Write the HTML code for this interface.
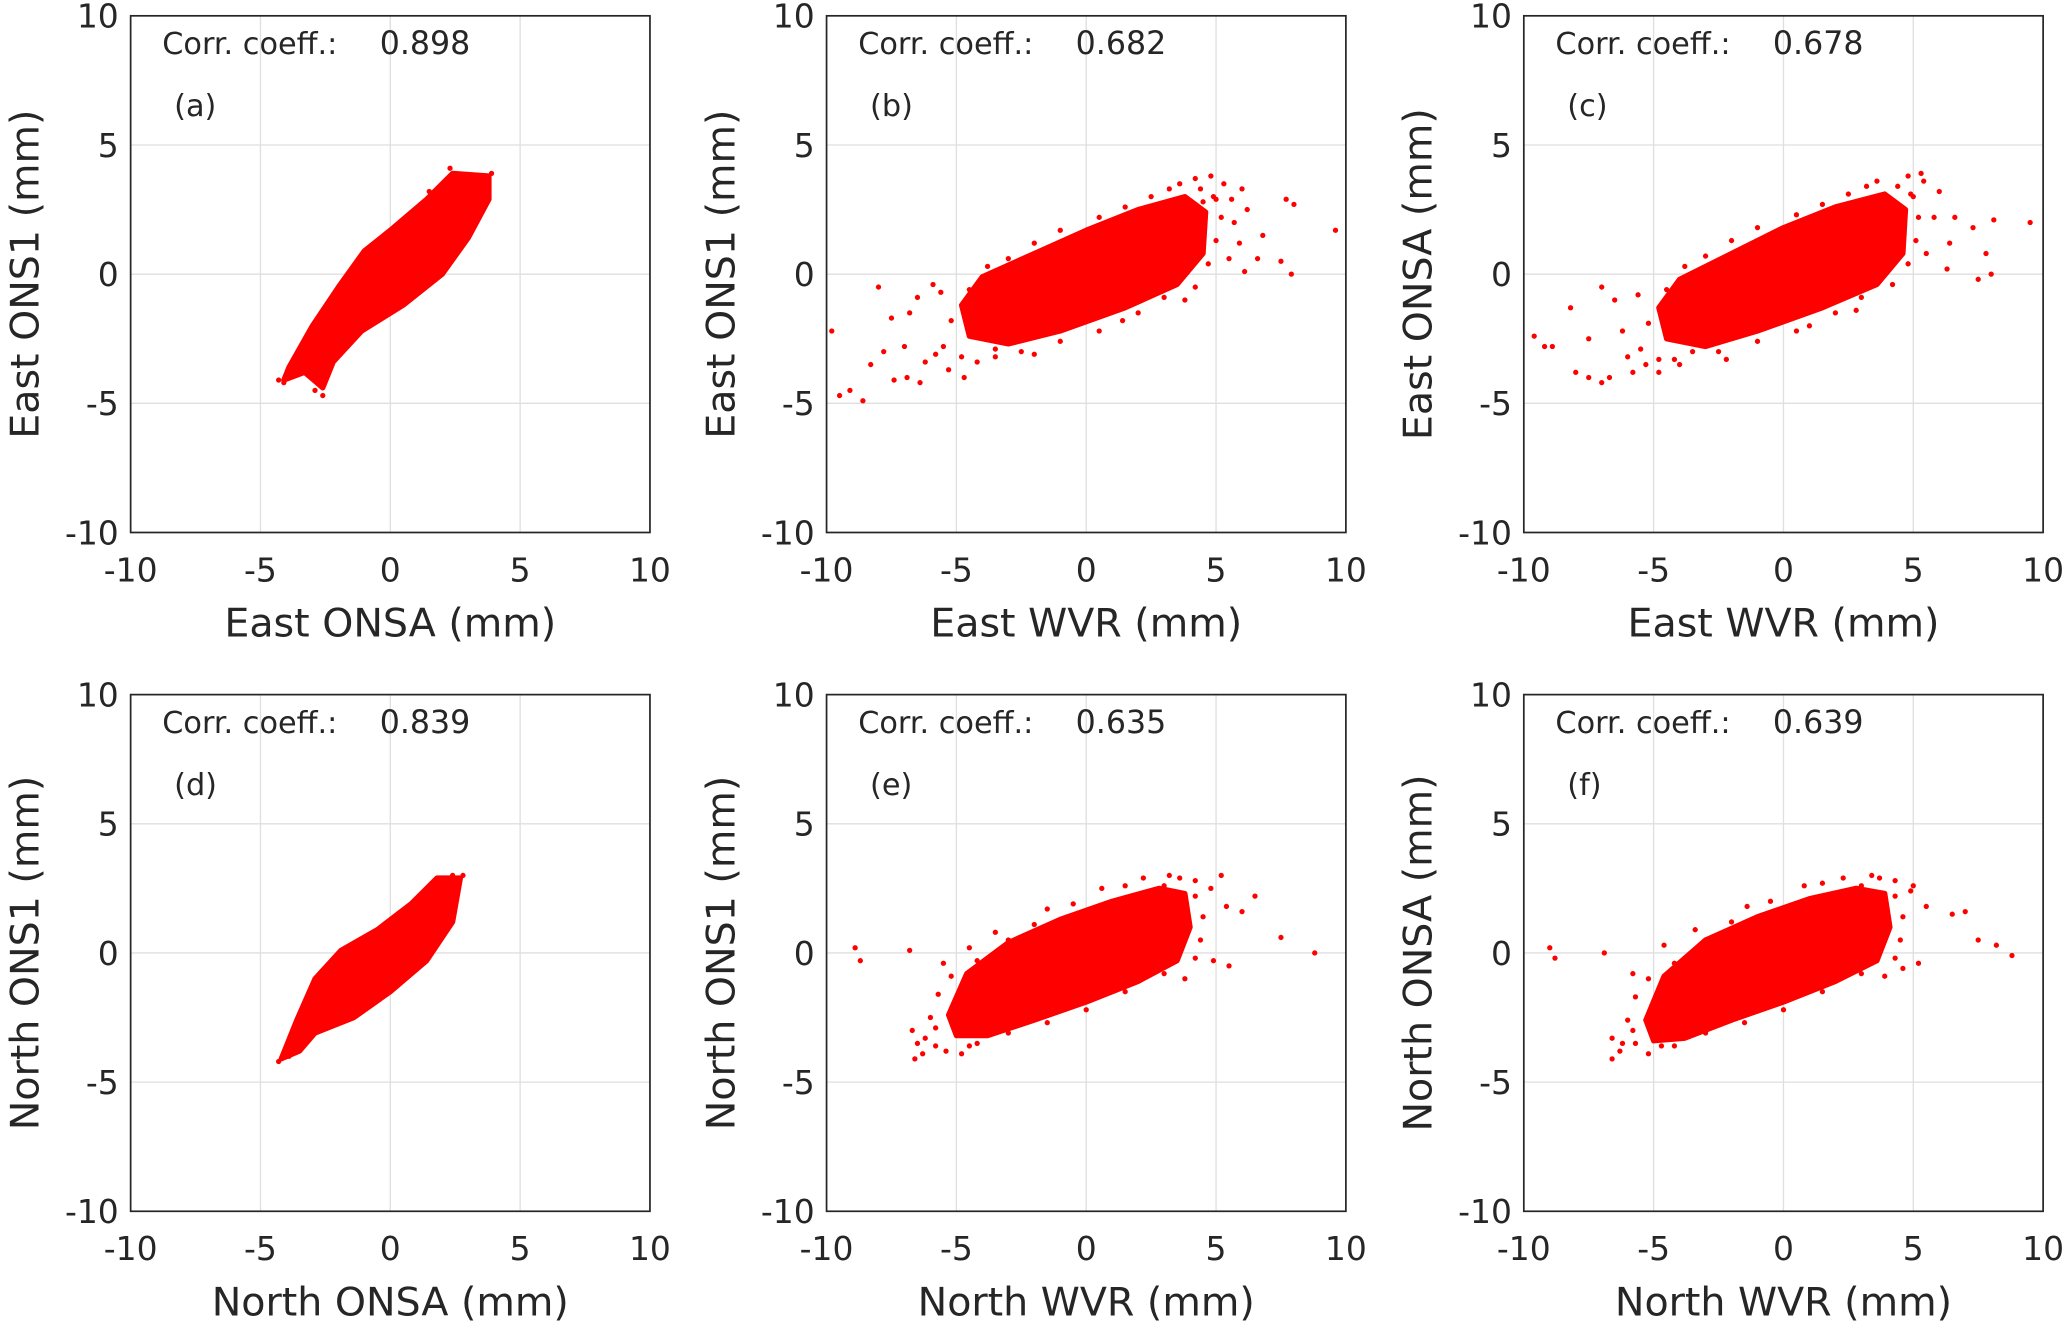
<!DOCTYPE html>
<html><head><meta charset="utf-8"><style>
html,body{margin:0;padding:0;background:#fff;}
svg{display:block;}
text{font-family:"DejaVu Sans","Liberation Sans",sans-serif;fill:#262626;}
</style></head><body>
<svg id="fig" width="2067" height="1322" viewBox="0 0 1568 1003" xmlns="http://www.w3.org/2000/svg"></svg>
<script>
// ---- data (values in mm) ----
const panelIds = ['a','b','c','d','e','f'];
const xLabels = ['East ONSA (mm)','East WVR (mm)','East WVR (mm)','North ONSA (mm)','North WVR (mm)','North WVR (mm)'];
const yLabels = ['East ONS1 (mm)','East ONS1 (mm)','East ONSA (mm)','North ONS1 (mm)','North ONS1 (mm)','North ONSA (mm)'];
const corrValues = ['0.898','0.682','0.678','0.839','0.635','0.639'];
const tickValues = [-10,-5,0,5,10];
const tickLabels = ['-10','-5','0','5','10'];
// dense cores (hull vertices, x,y)
const hullA = [[-4.1,-4.1],[-3.3,-3.8],[-2.6,-4.4],[-2.2,-3.4],[-1.1,-2.2],[0.5,-1.2],[2,0],[3,1.4],[3.8,2.9],[3.8,3.8],[2.4,3.9],[1.4,2.9],[0,1.7],[-1,0.9],[-2,-0.5],[-3,-2],[-3.9,-3.6]];
const hullB = [[-4.8,-1.2],[-4.5,-2.4],[-3,-2.7],[-1,-2.2],[1.5,-1.3],[3.5,-0.4],[4.5,0.8],[4.6,2.4],[3.8,3.0],[2,2.5],[0,1.7],[-2,0.8],[-4,-0.1]];
const hullC = [[-4.8,-1.3],[-4.5,-2.5],[-3,-2.8],[-1,-2.2],[1.5,-1.3],[3.6,-0.4],[4.6,0.8],[4.7,2.5],[3.9,3.1],[2,2.6],[0,1.8],[-2,0.8],[-4,-0.2]];
const hullD = [[-4.2,-4.1],[-3.5,-3.8],[-2.9,-3.1],[-1.4,-2.5],[0,-1.5],[1.4,-0.3],[2.4,1.2],[2.7,2.9],[1.8,2.9],[0.8,1.9],[-0.5,0.9],[-1.9,0.1],[-2.9,-1.0],[-3.6,-2.6]];
const hullE = [[-5.3,-2.4],[-5,-3.2],[-3.8,-3.2],[-2,-2.6],[0,-1.9],[2,-1.1],[3.5,-0.3],[4.0,1.0],[3.8,2.3],[2.8,2.5],[1,2.0],[-1,1.3],[-3,0.4],[-4.6,-0.8]];
const hullF = [[-5.3,-2.6],[-5,-3.4],[-3.8,-3.3],[-2,-2.6],[0,-1.9],[2,-1.1],[3.6,-0.3],[4.1,1.0],[3.9,2.3],[2.8,2.5],[1,2.1],[-1,1.4],[-3,0.5],[-4.6,-0.9]];
// sparse outliers
const ptsA = [[-4.1,-4.2],[-2.6,-4.7],[3.9,3.9],[2.3,4.1],[3.5,3.2],[-3.8,-3.9],[-2.9,-4.5],[-4.3,-4.1],[2.8,3.8],[1.5,3.2]];
const ptsB = [[-9.5,-4.7],[-9.1,-4.5],[-8.6,-4.9],[-8.3,-3.5],[-7.8,-3.0],[-7.4,-4.1],[-6.9,-4.0],[-7.0,-2.8],[-6.4,-4.2],[-6.8,-1.5],[-8.0,-0.5],[-9.8,-2.2],[-7.5,-1.7],[-6.2,-3.4],[-5.8,-3.1],[-5.3,-3.7],[-4.7,-4.0],[-6.5,-0.9],[-5.9,-0.4],[-3.5,-3.2],[-2,-3.1],[1.4,-1.8],[3.8,-1.0],[5.5,0.6],[5.7,2.0],[6.0,3.3],[5.6,2.9],[4.8,3.8],[4.2,3.7],[6.8,1.5],[7.7,2.9],[8.0,2.7],[9.6,1.7],[7.5,0.5],[7.9,0.0],[6.6,0.6],[6.1,0.1],[5.9,1.2],[6.2,2.5],
 [-5.5,-2.8],[-5.2,-1.8],[-5.6,-0.7],[-4.8,-3.2],[-4.2,-3.4],[-3.5,-2.9],[-4.5,-0.6],[-3.8,0.3],[-3,0.6],[-2,1.2],[-1,1.7],[0.5,2.2],[1.5,2.6],[2.5,3.0],[3.2,3.3],[3.6,3.5],[4.4,3.3],[5.0,2.9],[5.2,2.2],[5.0,1.3],[4.7,0.4],[4.2,-0.5],[3,-0.9],[2,-1.5],[0.5,-2.2],[-1,-2.6],[-2.5,-3.0],[5.3,3.5],[4.9,3.0],[4.5,2.8]];
const ptsC = [[-9.6,-2.4],[-9.2,-2.8],[-8.9,-2.8],[-8.0,-3.8],[-7.5,-4.0],[-7.0,-4.2],[-6.7,-4.0],[-6.0,-3.2],[-7.5,-2.5],[-8.2,-1.3],[-7.0,-0.5],[-6.5,-1.0],[-5.8,-3.8],[-5.3,-3.5],[-4.8,-3.8],[-6.2,-2.2],[-4.0,-3.5],[-2.2,-3.3],[1,-2.0],[2.8,-1.4],[5.5,0.8],[5.8,2.2],[6.0,3.2],[5.3,3.9],[4.8,3.8],[6.6,2.2],[7.3,1.8],[7.8,0.8],[8.1,2.1],[9.5,2.0],[8.0,0.0],[7.5,-0.2],[6.4,1.2],[6.3,0.2],
 [-5.5,-2.9],[-5.2,-1.9],[-5.6,-0.8],[-4.8,-3.3],[-4.2,-3.3],[-3.5,-3.0],[-4.5,-0.6],[-3.8,0.3],[-3,0.7],[-2,1.3],[-1,1.8],[0.5,2.3],[1.5,2.7],[2.5,3.1],[3.2,3.4],[3.6,3.6],[4.4,3.4],[5.0,3.0],[5.2,2.2],[5.1,1.3],[4.8,0.4],[4.2,-0.4],[3,-0.9],[2,-1.5],[0.5,-2.2],[-1,-2.6],[-2.5,-3.0],[5.4,3.6],[4.9,3.1]];
const ptsD = [[-4.3,-4.2],[2.8,3.0],[2.4,3.0],[-3.9,-4.0],[-3.2,-3.4],[-3.6,-3.7],[2.0,2.9],[2.6,2.6]];
const ptsE = [[-8.9,0.2],[-8.7,-0.3],[-6.8,0.1],[-6.6,-4.1],[-6.5,-3.5],[-6.3,-3.9],[-6.7,-3.0],[-5.8,-3.6],[-5.4,-3.8],[-4.8,-3.9],[-4.5,-3.6],[-5.5,-0.4],[-4.5,0.2],[-3.5,0.8],[-1.5,1.7],[0.6,2.5],[2.2,2.9],[3.2,3.0],[4.2,2.8],[5.2,3.0],[5.4,1.8],[5.5,-0.5],[4.9,-0.3],[6.0,1.6],[6.5,2.2],[7.5,0.6],[8.8,0.0],[3.8,-1.0],
 [-6.0,-2.5],[-5.7,-1.6],[-5.2,-0.9],[-4.2,-0.3],[-3,0.5],[-2,1.1],[-0.5,1.9],[1.5,2.6],[3.0,2.6],[4.2,2.2],[4.5,1.4],[4.4,0.5],[4.2,-0.2],[3,-0.8],[1.5,-1.5],[0,-2.2],[-1.5,-2.7],[-3,-3.1],[-4.2,-3.5],[-5.8,-2.9],[-6.2,-3.3],[4.8,2.5],[3.6,2.9]];
const ptsF = [[-9.0,0.2],[-8.8,-0.2],[-6.9,0.0],[-6.6,-4.1],[-6.6,-3.3],[-6.3,-3.8],[-5.7,-3.5],[-5.2,-3.9],[-4.7,-3.6],[-5.8,-0.8],[-4.6,0.3],[-3.4,0.9],[-1.4,1.8],[0.8,2.6],[2.3,2.9],[3.4,3.0],[4.3,2.8],[5.0,2.6],[5.5,1.8],[5.2,-0.4],[4.6,-0.6],[6.5,1.5],[7.0,1.6],[7.5,0.5],[8.2,0.3],[8.8,-0.1],[3.9,-0.9],
 [-6.0,-2.6],[-5.7,-1.7],[-5.2,-1.0],[-4.2,-0.4],[-3,0.5],[-2,1.2],[-0.5,2.0],[1.5,2.7],[3.0,2.6],[4.3,2.2],[4.6,1.4],[4.5,0.5],[4.3,-0.2],[3,-0.8],[1.5,-1.5],[0,-2.2],[-1.5,-2.7],[-3,-3.1],[-4.2,-3.6],[-5.8,-3.0],[-6.2,-3.5],[4.9,2.4],[3.7,2.9]];
const hulls = [hullA,hullB,hullC,hullD,hullE,hullF];
const outliers = [ptsA,ptsB,ptsC,ptsD,ptsE,ptsF];

const NS='http://www.w3.org/2000/svg';
const svg=document.getElementById('fig');
function mk(tag,attrs,parent){const e=document.createElementNS(NS,tag);for(const k in attrs)e.setAttribute(k,attrs[k]);(parent||svg).appendChild(e);return e;}
const boxX=[99,627,1156], boxY=[12,527], W=394, H=392;
panelIds.forEach((id,i)=>{
  const x0=boxX[i%3], y0=boxY[Math.floor(i/3)];
  const sx=v=>x0+(v+10)/20*W, sy=v=>y0+(10-v)/20*H;
  const g=mk('g',{});
  
  
  mk('rect',{x:x0,y:y0,width:W,height:H,fill:'#fff'},g);
  tickValues.forEach((t,k)=>{
    const gx=mk('line',{x1:sx(t),x2:sx(t),y1:y0,y2:y0+H,stroke:'#dfdfdf','stroke-width':1},g);
    
    
    const gy=mk('line',{x1:x0,x2:x0+W,y1:sy(t),y2:sy(t),stroke:'#dfdfdf','stroke-width':1},g);
    
    
    const tx=mk('text',{x:sx(t),y:y0+H+37,'font-size':25,'text-anchor':'middle'},g);tx.textContent=tickLabels[k];
    
    
    const ty=mk('text',{x:x0-9,y:sy(t)+9,'font-size':25,'text-anchor':'end'},g);ty.textContent=tickLabels[k];
    
    
  });
  const hp=mk('polygon',{points:hulls[i].map(p=>sx(p[0])+','+sy(p[1])).join(' '),fill:'#ff0000',stroke:'#ff0000','stroke-width':4,'stroke-linejoin':'round'},g);
  
  
  outliers[i].forEach(p=>{
    const c=mk('circle',{cx:sx(p[0]),cy:sy(p[1]),r:2,fill:'#ff0000'},g);
    
    
  });
  const fr=mk('rect',{x:x0,y:y0,width:W,height:H,fill:'none',stroke:'#262626','stroke-width':1.3},g);
  
  
  const ct=mk('text',{x:x0+24,y:y0+29,'font-size':23},g);ct.textContent='Corr. coeff.:';
  
  
  const cv=mk('text',{x:x0+189,y:y0+29,'font-size':24},g);cv.textContent=corrValues[i];
  
  
  const pl=mk('text',{x:x0+33,y:y0+76,'font-size':23},g);pl.textContent='('+id+')';
  
  
  const xl=mk('text',{x:x0+W/2,y:y0+H+79,'font-size':30,'text-anchor':'middle'},g);xl.textContent=xLabels[i];
  
  
  const yl=mk('text',{x:0,y:0,'font-size':30,'text-anchor':'middle',transform:'translate('+(x0-70)+','+(y0+H/2)+') rotate(-90)'},g);yl.textContent=yLabels[i];
  
  
});
</script>
</body></html>
